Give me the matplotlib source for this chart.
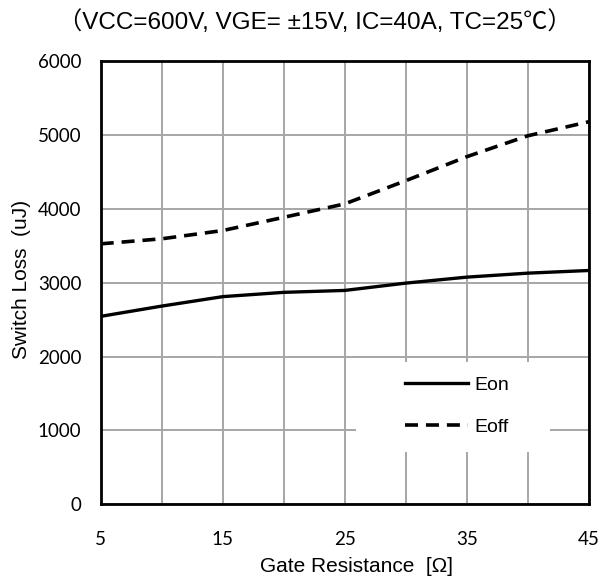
import matplotlib
matplotlib.use("Agg")
import matplotlib.pyplot as plt
from matplotlib.patches import Rectangle

# data
rg = [5, 10, 15, 20, 25, 30, 35, 40, 45]
eon = [2545, 2684, 2812, 2870, 2896, 2995, 3076, 3130, 3166]
eoff = [3527, 3595, 3707, 3886, 4068, 4382, 4707, 4990, 5180]
x_ticks = [5, 15, 25, 35, 45]
y_ticks = [0, 1000, 2000, 3000, 4000, 5000, 6000]
title = "（VCC=600V, VGE= ±15V, IC=40A, TC=25℃）"

plt.rcParams["font.family"] = ["Liberation Sans", "Noto Sans CJK JP", "DejaVu Sans"]
tick_font = ["Lato", "Liberation Sans"]

fig = plt.figure(figsize=(6.03, 5.8), dpi=100)
ax = fig.add_axes([0.167, 0.1305, 0.8095, 0.764])

ax.plot(rg, eon, color="black", lw=2.4, label="Eon", zorder=3)
ax.plot(rg, eoff, color="black", lw=2.6, ls=(0, (3.6, 2.2)), label="Eoff", zorder=3)

ax.set_xlim(5, 45)
ax.set_ylim(0, 6000)
ax.set_xticks(range(5, 46, 5))
ax.set_xticklabels([str(v) if v in x_ticks else "" for v in range(5, 46, 5)],
                   family=tick_font, fontsize=13.5)
ax.set_yticks(y_ticks)
ax.set_yticklabels([str(v) for v in y_ticks], family=tick_font, fontsize=13.5)
ax.tick_params(length=0, pad=19, axis="x")
ax.tick_params(length=0, pad=14, axis="y")
ax.grid(True, color="#a6a6a6", lw=1.4, zorder=0)
ax.set_axisbelow(True)
for s in ax.spines.values():
    s.set_linewidth(2)
    s.set_color("black")

fig.text(356 / 603, 1 - 566 / 580, "Gate Resistance  [Ω]", ha="center", va="center",
         fontsize=15)
fig.text(22 / 603, 1 - 279 / 580, "Switch Loss  (uJ)", ha="center", va="center",
         rotation=90, fontsize=15)
fig.text(315 / 603, 1 - 22 / 580, title, ha="center", va="center", fontsize=17.5)

# white area behind the legend (hides gridlines)
ax.add_patch(Rectangle((0.524, 0.119), 0.396, 0.203, transform=ax.transAxes,
                       facecolor="white", edgecolor="none", zorder=1))
ax.legend(loc="center left", bbox_to_anchor=(0.624, 0.222), frameon=False,
          fontsize=14, handlelength=3.2, handletextpad=0.35, labelspacing=1.25,
          borderpad=0, borderaxespad=0)

fig.savefig("out.png", dpi=100)
